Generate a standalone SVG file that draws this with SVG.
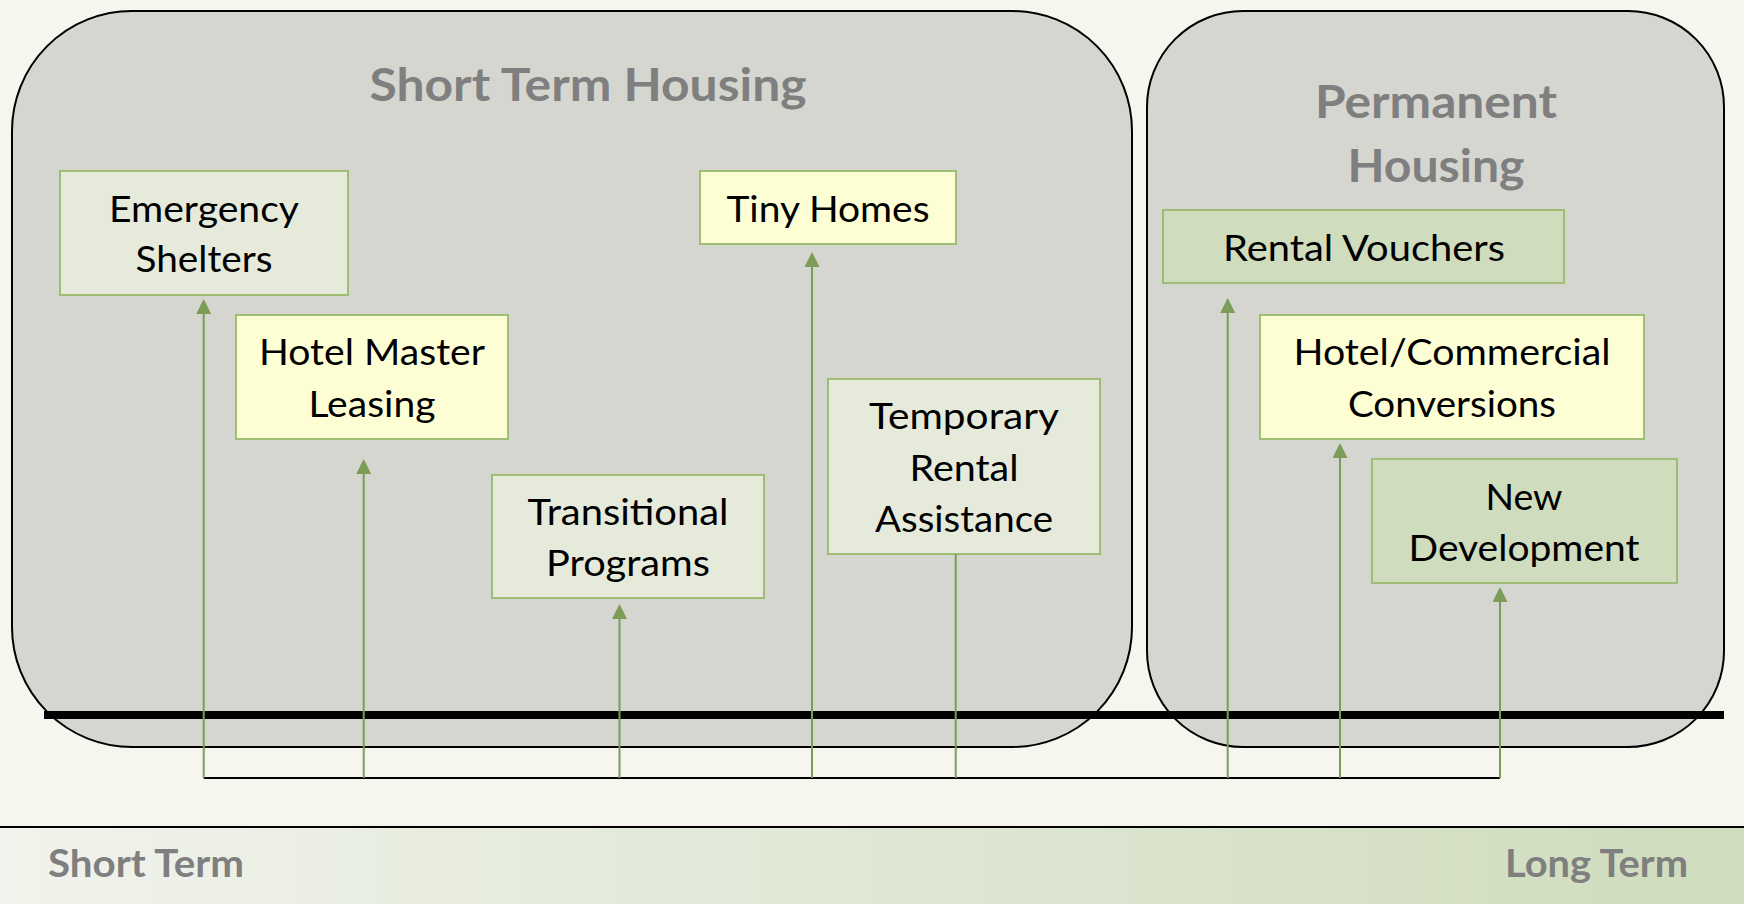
<svg xmlns="http://www.w3.org/2000/svg" width="1744" height="904" viewBox="0 0 1744 904">
  <defs>
    <linearGradient id="bandGrad" x1="0" y1="0" x2="1" y2="0">
      <stop offset="0" stop-color="#f1f3ec"/>
      <stop offset="1" stop-color="#cfdcbd"/>
    </linearGradient>
    <marker id="arrowUp" viewBox="0 0 10 10" refX="0" refY="5" markerWidth="15" markerHeight="15" markerUnits="userSpaceOnUse" orient="auto">
      <path d="M0,0 L10,5 L0,10 z" fill="#7c9d57"/>
    </marker>
  </defs>
  <style>
    .group { fill: #d5d6d0; stroke: #000; stroke-width: 2; }
    .title { font-family: Lato, "Open Sans", sans-serif; font-weight: bold; font-size: 45px; fill: #7f7f7f; text-anchor: middle; }
    .box { stroke: #a0bd74; stroke-width: 2; }
    .pale { fill: #e5eadb; }
    .cream { fill: #fefed5; }
    .sage { fill: #d0dcbe; }
    .label { font-family: Lato, "Open Sans", sans-serif; font-size: 37px; fill: #000; text-anchor: middle; }
    .flow { fill: none; stroke: #7c9d57; stroke-width: 2; }
    .bus { fill: none; stroke: #000; stroke-width: 2; }
    .scale { font-family: Lato, "Open Sans", sans-serif; font-weight: bold; font-size: 38px; fill: #7f7f7f; }
  </style>

  <!-- page background -->
  <rect x="0" y="0" width="1744" height="904" fill="#f6f6ef"/>

  <!-- housing categories -->
  <g id="short-term-housing">
    <rect class="group" x="12" y="11" width="1120" height="736" rx="120" ry="120"/>
    <text class="title" x="588" y="101" textLength="437" lengthAdjust="spacingAndGlyphs">Short Term Housing</text>
  </g>
  <g id="permanent-housing">
    <rect class="group" x="1147" y="11" width="577" height="736" rx="96" ry="96"/>
    <text class="title" x="1436" y="118" textLength="242" lengthAdjust="spacingAndGlyphs">Permanent</text>
    <text class="title" x="1436" y="182" textLength="177" lengthAdjust="spacingAndGlyphs">Housing</text>
  </g>

  <!-- timeline axis -->
  <line x1="44" y1="715" x2="1724" y2="715" stroke="#000" stroke-width="8"/>

  <!-- programs -->
  <g id="emergency-shelters">
    <rect class="box pale" x="60" y="171" width="288" height="124"/>
    <text class="label" x="204" y="222" textLength="190" lengthAdjust="spacingAndGlyphs">Emergency</text>
    <text class="label" x="204" y="272" textLength="137" lengthAdjust="spacingAndGlyphs">Shelters</text>
  </g>
  <g id="hotel-master-leasing">
    <rect class="box cream" x="236" y="315" width="272" height="124"/>
    <text class="label" x="372" y="365" textLength="226" lengthAdjust="spacingAndGlyphs">Hotel Master</text>
    <text class="label" x="372" y="417" textLength="127" lengthAdjust="spacingAndGlyphs">Leasing</text>
  </g>
  <g id="transitional-programs">
    <rect class="box pale" x="492" y="475" width="272" height="123"/>
    <text class="label" x="628" y="525" textLength="201" lengthAdjust="spacingAndGlyphs">Transitional</text>
    <text class="label" x="628" y="576" textLength="164" lengthAdjust="spacingAndGlyphs">Programs</text>
  </g>
  <g id="tiny-homes">
    <rect class="box cream" x="700" y="171" width="256" height="73"/>
    <text class="label" x="828" y="222" textLength="203" lengthAdjust="spacingAndGlyphs">Tiny Homes</text>
  </g>
  <g id="temporary-rental-assistance">
    <rect class="box pale" x="828" y="379" width="272" height="175"/>
    <text class="label" x="964" y="429" textLength="190" lengthAdjust="spacingAndGlyphs">Temporary</text>
    <text class="label" x="964" y="481" textLength="109" lengthAdjust="spacingAndGlyphs">Rental</text>
    <text class="label" x="964" y="532" textLength="178" lengthAdjust="spacingAndGlyphs">Assistance</text>
  </g>
  <g id="rental-vouchers">
    <rect class="box sage" x="1163" y="210" width="401" height="73"/>
    <text class="label" x="1364" y="261" textLength="282" lengthAdjust="spacingAndGlyphs">Rental Vouchers</text>
  </g>
  <g id="hotel-commercial-conversions">
    <rect class="box cream" x="1260" y="315" width="384" height="124"/>
    <text class="label" x="1452" y="365" textLength="317" lengthAdjust="spacingAndGlyphs">Hotel/Commercial</text>
    <text class="label" x="1452" y="417" textLength="208" lengthAdjust="spacingAndGlyphs">Conversions</text>
  </g>
  <g id="new-development">
    <rect class="box sage" x="1372" y="459" width="305" height="124"/>
    <text class="label" x="1524" y="510" textLength="77" lengthAdjust="spacingAndGlyphs">New</text>
    <text class="label" x="1524" y="561" textLength="231" lengthAdjust="spacingAndGlyphs">Development</text>
  </g>

  <!-- connectors -->
  <g id="connectors">
    <path class="bus" d="M203.7,778 H1500"/>
    <path class="flow" d="M203.7,778 V314" marker-end="url(#arrowUp)"/>
    <path class="flow" d="M363.7,778 V474" marker-end="url(#arrowUp)"/>
    <path class="flow" d="M619.5,778 V619" marker-end="url(#arrowUp)"/>
    <path class="flow" d="M812,778 V267" marker-end="url(#arrowUp)"/>
    <path class="flow" d="M955.7,778 V554"/>
    <path class="flow" d="M1227.7,778 V313" marker-end="url(#arrowUp)"/>
    <path class="flow" d="M1340,778 V458" marker-end="url(#arrowUp)"/>
    <path class="flow" d="M1500,778 V602" marker-end="url(#arrowUp)"/>
  </g>

  <!-- short-to-long term scale -->
  <g id="term-scale">
    <rect x="0" y="827" width="1744" height="77" fill="url(#bandGrad)"/>
    <line x1="0" y1="827" x2="1744" y2="827" stroke="#000" stroke-width="2"/>
    <text class="scale" x="48" y="877" textLength="196" lengthAdjust="spacingAndGlyphs">Short Term</text>
    <text class="scale" x="1505" y="877" textLength="183" lengthAdjust="spacingAndGlyphs">Long Term</text>
  </g>
</svg>
